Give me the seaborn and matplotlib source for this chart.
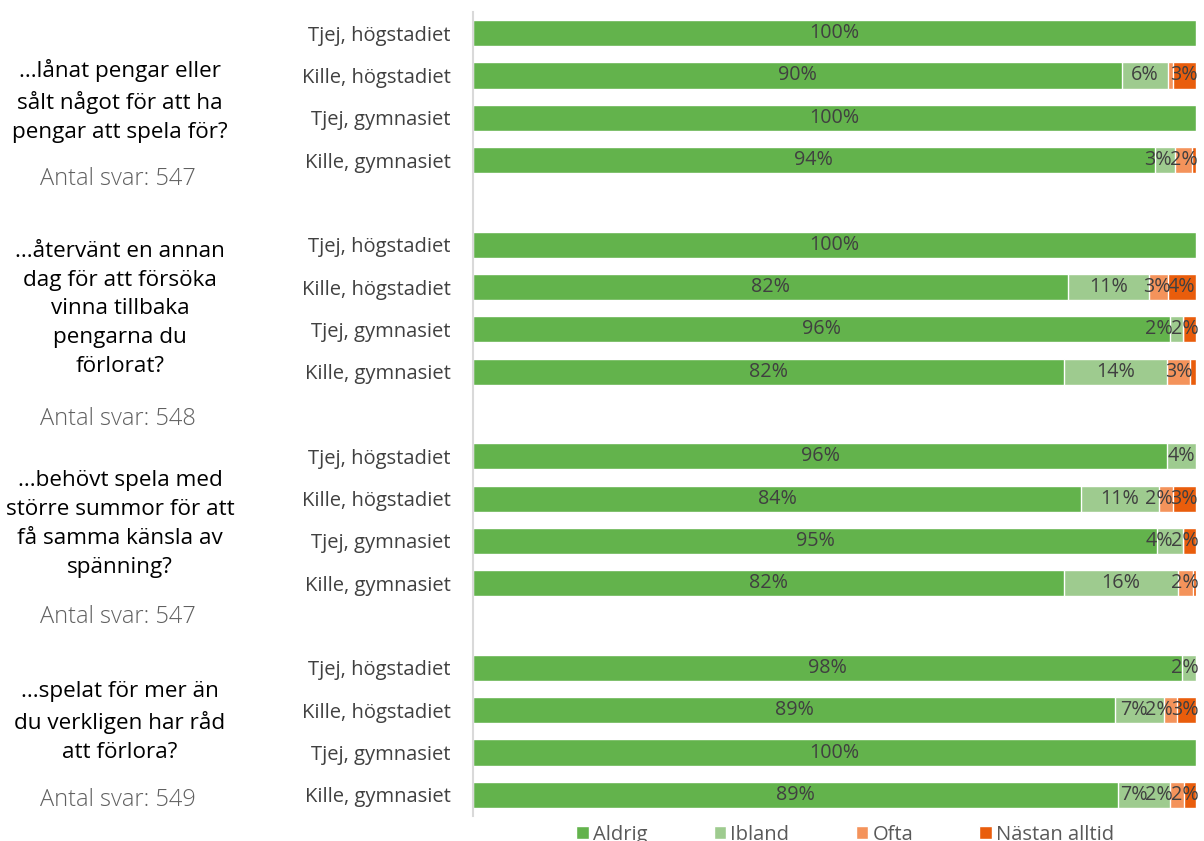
import matplotlib

matplotlib.use("Agg")
import matplotlib.pyplot as plt
import pandas as pd
import seaborn as sns
from matplotlib.patches import Patch

# --- data (percent per answer) ---
levels = ["Aldrig", "Ibland", "Ofta", "Nästan alltid"]
groups = ["Tjej, högstadiet", "Kille, högstadiet", "Tjej, gymnasiet", "Kille, gymnasiet"]
questions = [
    "...lånat pengar eller\nsålt något för att ha\npengar att spela för?",
    "...återvänt en annan\ndag för att försöka\nvinna tillbaka\npengarna du\nförlorat?",
    "...behövt spela med\nstörre summor för att\nfå samma känsla av\nspänning?",
    "...spelat för mer än\ndu verkligen har råd\natt förlora?",
]
answers = [547, 548, 547, 549]

aldrig = [100, 89.8, 100, 94.3, 100, 82.3, 96.4, 81.7, 96.0, 84.1, 94.6, 81.7, 98.0, 88.8, 100, 89.2]
ibland = [0, 6.3, 0, 2.8, 0, 11.2, 1.8, 14.3, 4.0, 10.8, 3.6, 15.8, 2.0, 6.8, 0, 7.2]
ofta = [0, 0.7, 0, 2.4, 0, 2.6, 0, 3.2, 0, 1.9, 0, 2.1, 0, 1.8, 0, 1.9]
nastan = [0, 3.2, 0, 0.5, 0, 3.9, 1.8, 0.8, 0, 3.2, 1.8, 0.4, 0, 2.6, 0, 1.7]

colors = ["#63B34C", "#9ECB8F", "#F4935B", "#E95D0C"]
label_color = "#404040"

sns.set_style("white")
plt.rcParams["font.family"] = ["Open Sans", "DejaVu Sans"]

# one row key per bar, with an empty slot between question blocks
keys, order = [], []
for qi in range(len(questions)):
    for g in groups:
        keys.append(f"q{qi}|{g}")
        order.append(f"q{qi}|{g}")
    if qi < len(questions) - 1:
        order.append(f"gap{qi}")

df = pd.DataFrame({"row": keys, "Aldrig": aldrig, "Ibland": ibland,
                   "Ofta": ofta, "Nästan alltid": nastan})
cum = df[levels].cumsum(axis=1)
df[[f"cum_{l}" for l in levels]] = cum.values

fig = plt.figure(figsize=(12.04, 8.41), dpi=100)
ax = fig.add_axes([473 / 1204, 1 - 816 / 841, (1196 - 473) / 1204, (816 - 12) / 841])

# overlay cumulative bars, widest first
for lvl, col in reversed(list(zip(levels, colors))):
    sns.barplot(data=df, y="row", x=f"cum_{lvl}", order=order, orient="h",
                color=col, saturation=1, width=0.62, errorbar=None,
                edgecolor="white", linewidth=1, ax=ax)

ax.set_xlim(0, 100)
ax.set_ylim(len(order) - 0.5, -0.5)

# segment labels, pushed left where they would collide (like Excel does)
renderer = fig.canvas.get_renderer()
px_per_unit = ax.get_window_extent().width / 100
for _, r in df.iterrows():
    yi = order.index(r["row"])
    texts, centers, widths = [], [], []
    left = 0
    for lvl in levels:
        v = r[lvl]
        if v >= 1.5:
            t = ax.text(0, yi, f"{round(v)}%", ha="center", va="center",
                        fontsize=14.2, color=label_color)
            texts.append(t)
            centers.append(left + v / 2)
            widths.append(t.get_window_extent(renderer).width / px_per_unit * 0.92)
        left += v
    if texts:
        centers[-1] = min(centers[-1], 100.2 - widths[-1] / 2)
    for i in range(len(texts) - 2, -1, -1):
        limit = centers[i + 1] - (widths[i] + widths[i + 1]) / 2
        centers[i] = min(centers[i], limit)
    for t, c in zip(texts, centers):
        t.set_x(c)

ax.set_xlabel(""); ax.set_ylabel("")
ax.set_xticks([])
ax.set_yticks(range(len(order)))
ax.set_yticklabels([k.split("|")[1] if "|" in k else "" for k in order],
                   fontsize=14.5, color="#404040")
ax.tick_params(axis="y", length=0, pad=16)
for s in ["top", "right", "bottom"]:
    ax.spines[s].set_visible(False)
ax.spines["left"].set_color("#D9D9D9")
ax.spines["left"].set_linewidth(1.5)

# question texts on the left
q_centers = [101, 309, 524, 722]
a_centers = [179, 419, 617, 800]
for q, n, qc, ac in zip(questions, answers, q_centers, a_centers):
    fig.text(120 / 1204, 1 - qc / 841, q, ha="center", va="center",
             fontsize=16.2, color="black", linespacing=1.48)
    fig.text(118 / 1204, 1 - ac / 841, f"Antal svar: {n}", ha="center", va="center",
             fontsize=17, color="#606060", fontweight="light",
             family=["Open Sans Light", "Open Sans", "DejaVu Sans"])

handles = [Patch(facecolor=c, label=l) for l, c in zip(levels, colors)]
fig.legend(handles=handles, loc="center", bbox_to_anchor=(0.702, 1 - 835 / 841),
           ncol=4, frameon=False, fontsize=14.5, handlelength=0.62, handleheight=0.62,
           handletextpad=0.2, columnspacing=3.3, labelcolor="#595959")

fig.savefig("out.png", dpi=100)
